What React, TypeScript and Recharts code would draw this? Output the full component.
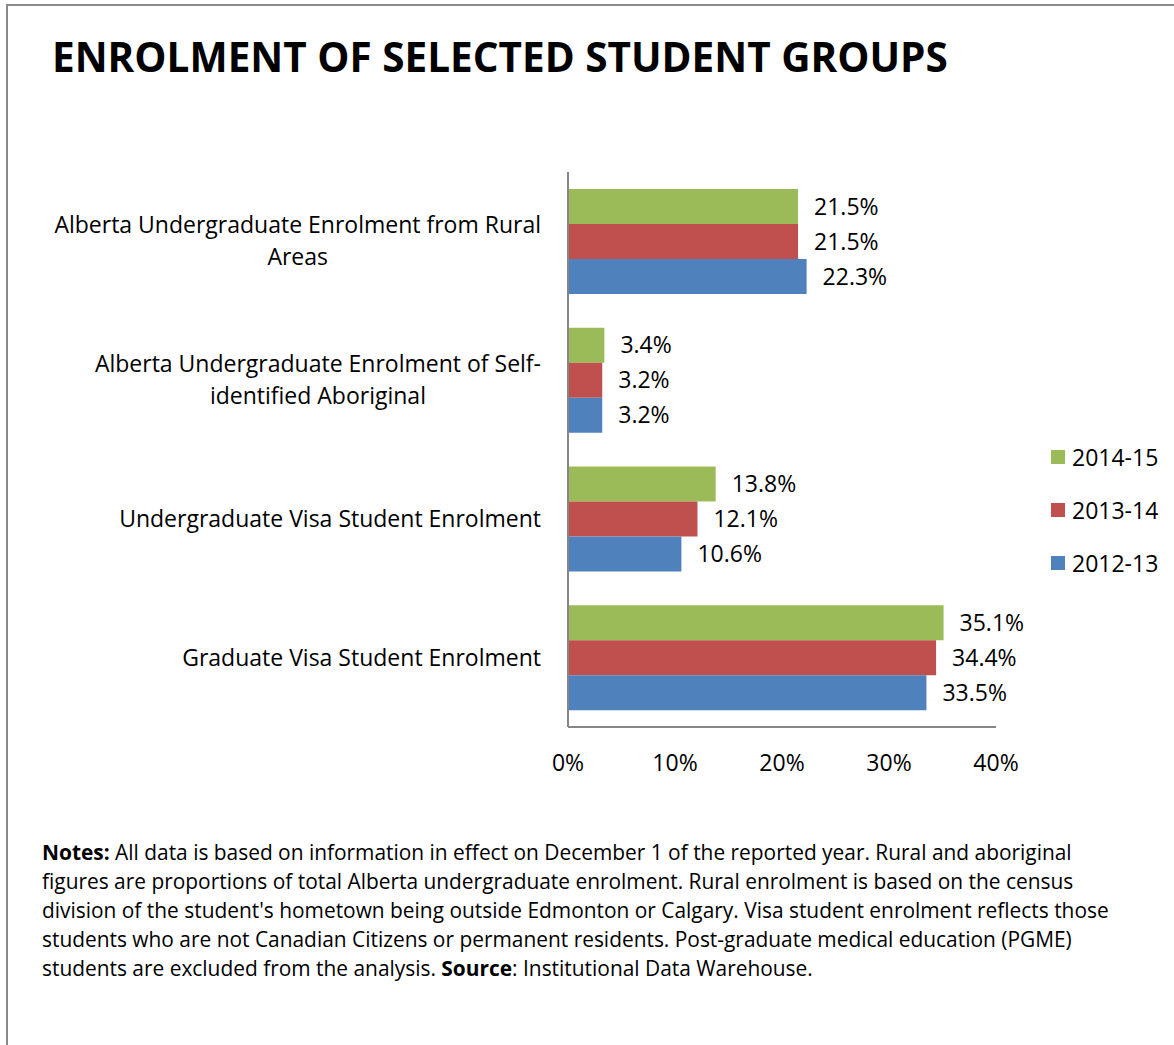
import React from 'react';
import { BarChart, Bar, XAxis, YAxis, LabelList } from 'recharts';

const categories = [
  'Alberta Undergraduate Enrolment from Rural Areas',
  'Alberta Undergraduate Enrolment of Self-identified Aboriginal',
  'Undergraduate Visa Student Enrolment',
  'Graduate Visa Student Enrolment',
];
const categoryLines: string[][] = [
  ['Alberta Undergraduate Enrolment from Rural', 'Areas'],
  ['Alberta Undergraduate Enrolment of Self-', 'identified Aboriginal'],
  ['Undergraduate Visa Student Enrolment'],
  ['Graduate Visa Student Enrolment'],
];
const series2014_15 = [21.5, 3.4, 13.8, 35.1];
const series2013_14 = [21.5, 3.2, 12.1, 34.4];
const series2012_13 = [22.3, 3.2, 10.6, 33.5];
const seriesNames = ['2014-15', '2013-14', '2012-13'];
const xTicks = [0, 10, 20, 30, 40];

const FONT = '"Open Sans", sans-serif';
const COLORS = ['#9BBB59', '#C0504D', '#4F81BD'];
const AX = 23;

const data = categories.map((c, i) => ({
  name: c,
  s1: series2014_15[i],
  s2: series2013_14[i],
  s3: series2012_13[i],
}));

let ctx: CanvasRenderingContext2D | null = null;
function measure(t: string, size: number) {
  if (!ctx) ctx = document.createElement('canvas').getContext('2d');
  if (!ctx) return t.length * size * 0.5;
  ctx.font = `${size}px ${FONT}`;
  return ctx.measureText(t).width;
}

const YTick = (props: any) => {
  const { x, y, payload } = props;
  const idx = categories.indexOf(payload.value);
  const lines = categoryLines[idx] || [payload.value];
  const widths = lines.map((l) => measure(l, AX));
  const maxW = Math.max(...widths);
  const right = x - 19;
  const lh = 32;
  const startY = y - ((lines.length - 1) * lh) / 2;
  return (
    <g>
      {lines.map((l, i) => (
        <text
          key={i}
          x={right - (maxW - widths[i]) / 2}
          y={startY + i * lh}
          dy="0.35em"
          textAnchor="end"
          fontSize={AX}
          fontFamily={FONT}
          fill="#000"
        >
          {l}
        </text>
      ))}
    </g>
  );
};

const fmt = (v: any) => `${Number(v).toFixed(1)}%`;

export default function App() {
  return (
    <div style={{ position: 'absolute', left: 0, top: 0, width: 1174, height: 1045, background: '#fff', overflow: 'hidden' }}>
      <div style={{ position: 'absolute', left: 6, top: 4, width: 1174, height: 1045, borderLeft: '2px solid #8a8a8a', borderTop: '2px solid #8a8a8a' }} />
      <div style={{ position: 'absolute', left: 52, top: 37, fontFamily: FONT, fontWeight: 700, fontSize: 40.5, lineHeight: 1, color: '#000', whiteSpace: 'nowrap' }}>
        ENROLMENT OF SELECTED STUDENT GROUPS
      </div>
      <div style={{ position: 'absolute', left: 0, top: 0 }}>
        <BarChart
          width={1174}
          height={800}
          data={data}
          layout="vertical"
          margin={{ top: 172, right: 178, bottom: 23, left: 0 }}
          barGap={0}
          barSize={35}
        >
          <XAxis
            type="number"
            domain={[0, 40]}
            ticks={xTicks}
            tickFormatter={(v) => `${v}%`}
            tickLine={false}
            axisLine={{ stroke: '#868686', strokeWidth: 2 }}
            height={50}
            tick={{ fontSize: AX, fontFamily: FONT, fill: '#000', dy: 20 }}
            interval={0}
          />
          <YAxis
            type="category"
            dataKey="name"
            width={568}
            tickLine={false}
            axisLine={{ stroke: '#868686', strokeWidth: 2 }}
            tick={<YTick />}
            interval={0}
          />
          <Bar dataKey="s1" name={seriesNames[0]} fill={COLORS[0]} isAnimationActive={false}>
            <LabelList dataKey="s1" position="right" offset={16} formatter={fmt} style={{ fontSize: AX, fontFamily: FONT, fill: '#000' }} />
          </Bar>
          <Bar dataKey="s2" name={seriesNames[1]} fill={COLORS[1]} isAnimationActive={false}>
            <LabelList dataKey="s2" position="right" offset={16} formatter={fmt} style={{ fontSize: AX, fontFamily: FONT, fill: '#000' }} />
          </Bar>
          <Bar dataKey="s3" name={seriesNames[2]} fill={COLORS[2]} isAnimationActive={false}>
            <LabelList dataKey="s3" position="right" offset={16} formatter={fmt} style={{ fontSize: AX, fontFamily: FONT, fill: '#000' }} />
          </Bar>
        </BarChart>
      </div>
      <div style={{ position: 'absolute', left: 1051, top: 430, fontFamily: FONT, fontSize: AX, color: '#000' }}>
        {seriesNames.map((n, i) => (
          <div key={n} style={{ display: 'flex', alignItems: 'center', height: 53 }}>
            <div style={{ width: 14, height: 14, background: COLORS[i], marginRight: 7 }} />
            <span>{n}</span>
          </div>
        ))}
      </div>
      <div style={{ position: 'absolute', left: 42, top: 838, fontFamily: FONT, fontSize: 20.9, lineHeight: '29px', color: '#000', whiteSpace: 'nowrap' }}>
        <b>Notes:</b> All data is based on information in effect on December 1 of the reported year. Rural and aboriginal<br />
        figures are proportions of total Alberta undergraduate enrolment. Rural enrolment is based on the census<br />
        division of the student's hometown being outside Edmonton or Calgary. Visa student enrolment reflects those<br />
        students who are not Canadian Citizens or permanent residents. Post-graduate medical education (PGME)<br />
        students are excluded from the analysis. <b>Source</b>: Institutional Data Warehouse.
      </div>
    </div>
  );
}
